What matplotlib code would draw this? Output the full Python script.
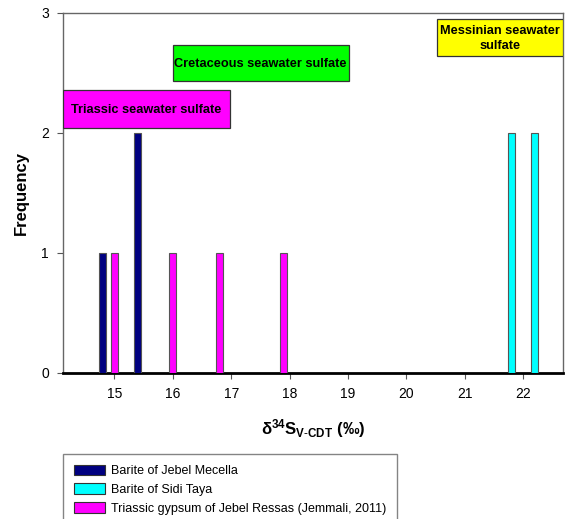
import matplotlib
matplotlib.use("Agg")
import matplotlib.pyplot as plt
from matplotlib.patches import Patch

plt.rcParams['font.family'] = ['Liberation Sans', 'DejaVu Sans']
plt.rcParams['mathtext.fontset'] = 'custom'
plt.rcParams['mathtext.bf'] = 'Liberation Sans:bold'
plt.rcParams['mathtext.rm'] = 'Liberation Sans'

# data
mecella_x = [14.8, 15.4]
mecella_n = [1, 2]
sidi_x = [21.8, 22.2]
sidi_n = [2, 2]
ressas_x = [15.0, 16.0, 16.8, 17.9]
ressas_n = [1, 1, 1, 1]
series_names = ["Barite of Jebel Mecella", "Barite of Sidi Taya",
                "Triassic gypsum of Jebel Ressas (Jemmali, 2011)"]
colors = ["#000080", "#00FFFF", "#FF00FF"]

# reference ranges (x0, x1, y0, y1, label, colour)
boxes = [
    (14.12, 16.98, 2.04, 2.36, "Triassic seawater sulfate", "#FF00FF"),
    (16.0, 19.01, 2.43, 2.73, "Cretaceous seawater sulfate", "#00FF00"),
    (20.53, 22.68, 2.64, 2.95, "Messinian seawater\nsulfate", "#FFFF00"),
]

fig = plt.figure(figsize=(5.69, 5.19), dpi=100)
ax = fig.add_axes([63/569, 1-373/519, 500/569, (373-12.7)/519])

w = 0.12
ax.bar(mecella_x, mecella_n, width=w, color=colors[0], edgecolor="#555555", linewidth=0.8, zorder=3)
ax.bar(sidi_x, sidi_n, width=w, color=colors[1], edgecolor="#555555", linewidth=0.8, zorder=3)
ax.bar(ressas_x, ressas_n, width=w, color=colors[2], edgecolor="#555555", linewidth=0.8, zorder=3)

for x0, x1, y0, y1, lab, c in boxes:
    ax.add_patch(plt.Rectangle((x0, y0), x1-x0, y1-y0, facecolor=c,
                               edgecolor="#333333", linewidth=0.9, zorder=4))
    ax.text((x0+x1)/2, (y0+y1)/2 - 0.01, lab, ha="center", va="center",
            fontsize=9.2, fontweight="bold", zorder=5, linespacing=1.25)

ax.set_xlim(14.12, 22.68)
ax.set_ylim(0, 3)
ax.set_xticks(range(15, 23))
ax.set_yticks([0, 1, 2, 3])
ax.tick_params(axis="both", labelsize=10, direction="out", length=4,
               color="#555555", width=0.8)
ax.tick_params(axis="x", pad=6)
ax.tick_params(axis="y", pad=6)

for s in ["left", "top", "right"]:
    ax.spines[s].set_color("#666666")
    ax.spines[s].set_linewidth(1.0)
ax.spines["bottom"].set_color("black")
ax.spines["bottom"].set_linewidth(2.0)

ax.set_ylabel("Frequency", fontsize=12, fontweight="bold", labelpad=9)
ax.set_xlabel(r"$\mathbf{\delta^{34}S_{V\text{-}CDT}}$ (‰)", fontsize=12,
              fontweight="bold", labelpad=12)

handles = [Patch(facecolor=c, edgecolor="#333333", linewidth=0.8) for c in colors]
leg = fig.legend(handles, series_names, loc="upper left",
                 bbox_to_anchor=(63/569, 1-454/519), fontsize=9,
                 frameon=True, fancybox=False, edgecolor="#666666",
                 handlelength=2.5, handleheight=0.9, handletextpad=0.5,
                 labelspacing=0.5, borderpad=0.85, borderaxespad=0)
leg.get_frame().set_linewidth(1.0)

fig.savefig("out.png", dpi=100)
